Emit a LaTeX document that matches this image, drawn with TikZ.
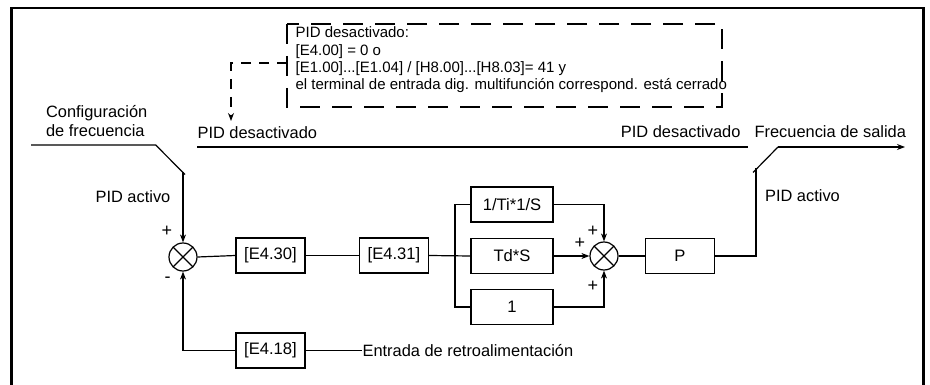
\documentclass[tikz,border=0pt]{standalone}
\usepackage{fontspec}
\setmainfont{Liberation Sans}
\usetikzlibrary{arrows.meta}
\begin{document}
\begin{tikzpicture}[x=1pt,y=-1pt,
  line width=1.2pt,
  lbl/.style={font=\fontsize{16.4}{19}\selectfont, inner sep=0pt},
  blk/.style={draw, line width=1.2pt, minimum width=69pt, minimum height=35pt, inner sep=0pt, font=\fontsize{16.6}{19}\selectfont},
  sumnode/.style={draw, circle, line width=1.2pt, minimum size=28pt, inner sep=0pt, path picture={
      \draw[line width=1.2pt] (path picture bounding box.north west) -- (path picture bounding box.south east)
      (path picture bounding box.north east) -- (path picture bounding box.south west);}},
  arr/.style={-{Stealth[length=8pt,width=6pt]}},
  sgn/.style={font=\fontsize{18}{19}\selectfont, inner sep=0pt},
  boxtxt/.style={font=\fontsize{15}{17.4}\selectfont, inner sep=0pt, anchor=base west}
]
\useasboundingbox (0,0) rectangle (930,385);
% outer frame (open at bottom)
\draw[line width=2.6pt] (11.5,385) -- (11.5,8) -- (923.5,8) -- (923.5,385);

% dashed condition box
\draw[line width=2pt, dash pattern=on 20pt off 12pt] (287,24) rectangle (722,107);
\node[boxtxt] (t1) at (295,37.7) {PID desactivado:};
\node[boxtxt] (t2) at (295,55.2) {[E4.00] = 0 o};
\node[boxtxt] (t3) at (295,72.6) {[E1.00]...[E1.04] / [H8.00]...[H8.03]= 41 y};
\node[boxtxt] (t4) at (295,90) {el terminal de entrada dig. multifunción correspond. está cerrado};
\coordinate (dbl) at (287,63);
\coordinate (dcorner) at (231,63);
\coordinate (darr) at (231,121);
\draw[dash pattern=on 10pt off 8pt, arr] (dbl) -- (dcorner) -- (darr);

% top labels
\node[lbl, anchor=base west] (cfg1) at (45.5,117.7) {Configuración};
\node[lbl, anchor=base west] (cfg2) at (45.5,136.5) {de frecuencia};
\node[lbl, anchor=base west] (pdl) at (197,139) {PID desactivado};
\node[lbl, anchor=base east] (pdr) at (741,138) {PID desactivado};
\node[lbl, anchor=base west] (fs) at (754,138) {Frecuencia de salida};
\node[lbl, anchor=base west] (pal) at (95,202.5) {PID activo};
\node[lbl, anchor=base west] (par) at (764.5,201.7) {PID activo};

% PID-off bypass line
\coordinate (byl) at (197,147);
\coordinate (byr) at (748,147);
\draw (byl) -- (byr);

% input switch
\coordinate (inl) at (31,145);
\coordinate (inb) at (155.7,145);
\coordinate (ine) at (185,174.5);
\coordinate (inv) at (183,172);
\draw (inl) -- (inb) -- (ine);

% summation 1 and blocks
\node[sumnode] (s1) at (183,257) {};
\node[blk] (e430) at (270.5,255.5) {[E4.30]};
\node[blk] (e431) at (394,255.5) {[E4.31]};
\node[blk] (e418) at (270.5,350.5) {[E4.18]};
\node[lbl, anchor=west] (fb) at (362,350.5) {Entrada de retroalimentación};
\node[sgn] (p1) at (167,231) {+};
\node[sgn] (m1) at (167.5,280) {-};

\draw[arr] (inv) -- (s1.north);
\draw (s1.east) -- (e430.west);
\draw (e430.east) -- (e431.west);
\draw (e418.east) -- (fb.west);
\draw[arr] (e418.west) -| (s1.south);

% parallel branches
\node[blk, minimum width=82pt] (ti) at (512,204.5) {1/Ti*1/S};
\node[blk, minimum width=82pt] (td) at (512,256) {Td*S};
\node[blk, minimum width=82pt] (one) at (512,307) {1};
\coordinate (br) at (455,256);
\draw (e431.east) -- (td.west);
\draw (ti.west) -| (br) |- (one.west);

\node[sumnode] (s2) at (604,256) {};
\draw[arr] (ti.east) -| (s2.north);
\draw[arr] (td.east) -- (s2.west);
\draw[arr] (one.east) -| (s2.south);
\node[sgn] (p2) at (593,231.5) {+};
\node[sgn] (p3) at (580,243.5) {+};
\node[sgn] (p4) at (593,286) {+};

\node[blk] (pb) at (680,256) {P};
\draw (s2.east) -- (pb.west);

% output switch
\coordinate (ov) at (756,256);
\coordinate (ovt) at (756,168);
\coordinate (osa) at (753,172.5);
\coordinate (osb) at (778,147);
\coordinate (oend) at (905,147);
\draw (pb.east) -- (ov) -- (ovt);
\draw (osa) -- (osb);
\draw[arr] (osb) -- (oend);
\end{tikzpicture}
\end{document}
